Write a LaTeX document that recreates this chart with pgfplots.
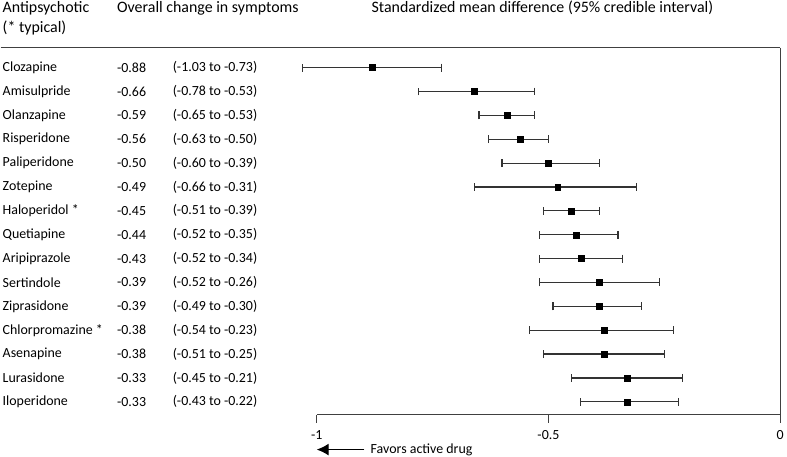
\documentclass[border=0pt]{standalone}
\usepackage{fontspec}
\setmainfont{Carlito}
\usepackage{pgfplots}
\usepackage{pgfplotstable}
\pgfplotsset{compat=1.18}
\usetikzlibrary{arrows.meta}

% row, plotted mean, lower, upper
\pgfplotstableread{
i  m     lo     hi
1  -0.88 -1.03 -0.73
2  -0.66 -0.78 -0.53
3  -0.59 -0.65 -0.53
4  -0.56 -0.63 -0.50
5  -0.50 -0.60 -0.39
6  -0.48 -0.66 -0.31
7  -0.45 -0.51 -0.39
8  -0.44 -0.52 -0.35
9  -0.43 -0.52 -0.34
10 -0.39 -0.52 -0.26
11 -0.39 -0.49 -0.30
12 -0.38 -0.54 -0.23
13 -0.38 -0.51 -0.25
14 -0.33 -0.45 -0.21
15 -0.33 -0.43 -0.22
}\smd

\newcommand{\body}{\fontsize{14}{17}\selectfont}
\newcommand{\head}{\fontsize{16}{19}\selectfont}
\newcommand{\row}[4]{%
  \node[anchor=west,inner sep=0pt] at (axis cs:-1.678,#1) {\body #2};
  \node[anchor=west,inner sep=0pt] at (axis cs:-1.431,#1) {\body #3};
  \node[anchor=west,inner sep=0pt] at (axis cs:-1.311,#1) {\body #4};
}

\begin{document}
\begin{tikzpicture}
\begin{axis}[
    scale only axis,
    width=466pt, height=369pt,
    xmin=-1, xmax=0,
    ymin=0.1667, ymax=15.54,
    y dir=reverse,
    axis x line*=bottom,
    axis y line*=right,
    axis line style={black!75, line width=1.3pt},
    ytick=\empty,
    xtick={-1,-0.5,0},
    xticklabels={-1,-0.5,0},
    tick align=outside,
    major tick length=8pt,
    tick style={black!75, line width=1.3pt},
    xticklabel style={font=\body, yshift=-4pt},
    clip=false,
]
\path (axis cs:-1.682,-1.833) rectangle (axis cs:0.0064,17.29);
\draw[black!75, line width=1.3pt] (axis cs:-1.682,0.1667) -- (axis cs:0,0.1667);

\addplot[only marks, mark=square*, mark size=3pt, black,
    error bars/.cd, x dir=both, x explicit,
    error mark=|, error mark options={mark size=4pt, line width=1.2pt, black!80},
    error bar style={line width=1.2pt, black!80}]
  table[x=m, y=i,
        x error plus expr=\thisrow{hi}-\thisrow{m},
        x error minus expr=\thisrow{m}-\thisrow{lo}] {\smd};

\node[anchor=west,inner sep=0pt] at (axis cs:-1.678,-1.5) {\head Antipsychotic};
\node[anchor=west,inner sep=0pt] at (axis cs:-1.678,-0.667) {\head (* typical)};
\node[anchor=west,inner sep=0pt] at (axis cs:-1.431,-1.5) {\head Overall change in symptoms};
\node[anchor=west,inner sep=0pt] at (axis cs:-0.882,-1.5) {\head Standardized mean difference (95\% credible interval)};

\row{1}{Clozapine}{-0.88}{(-1.03 to -0.73)}
\row{2}{Amisulpride}{-0.66}{(-0.78 to -0.53)}
\row{3}{Olanzapine}{-0.59}{(-0.65 to -0.53)}
\row{4}{Risperidone}{-0.56}{(-0.63 to -0.50)}
\row{5}{Paliperidone}{-0.50}{(-0.60 to -0.39)}
\row{6}{Zotepine}{-0.49}{(-0.66 to -0.31)}
\row{7}{Haloperidol *}{-0.45}{(-0.51 to -0.39)}
\row{8}{Quetiapine}{-0.44}{(-0.52 to -0.35)}
\row{9}{Aripiprazole}{-0.43}{(-0.52 to -0.34)}
\row{10}{Sertindole}{-0.39}{(-0.52 to -0.26)}
\row{11}{Ziprasidone}{-0.39}{(-0.49 to -0.30)}
\row{12}{Chlorpromazine *}{-0.38}{(-0.54 to -0.23)}
\row{13}{Asenapine}{-0.38}{(-0.51 to -0.25)}
\row{14}{Lurasidone}{-0.33}{(-0.45 to -0.21)}
\row{15}{Iloperidone}{-0.33}{(-0.43 to -0.22)}

\draw[-{Latex[length=12pt,width=12pt]}, line width=1.2pt] (axis cs:-0.897,17) -- (axis cs:-1,17);
\node[anchor=west,inner sep=0pt] at (axis cs:-0.884,17) {\body Favors active drug};
\end{axis}
\end{tikzpicture}
\end{document}
